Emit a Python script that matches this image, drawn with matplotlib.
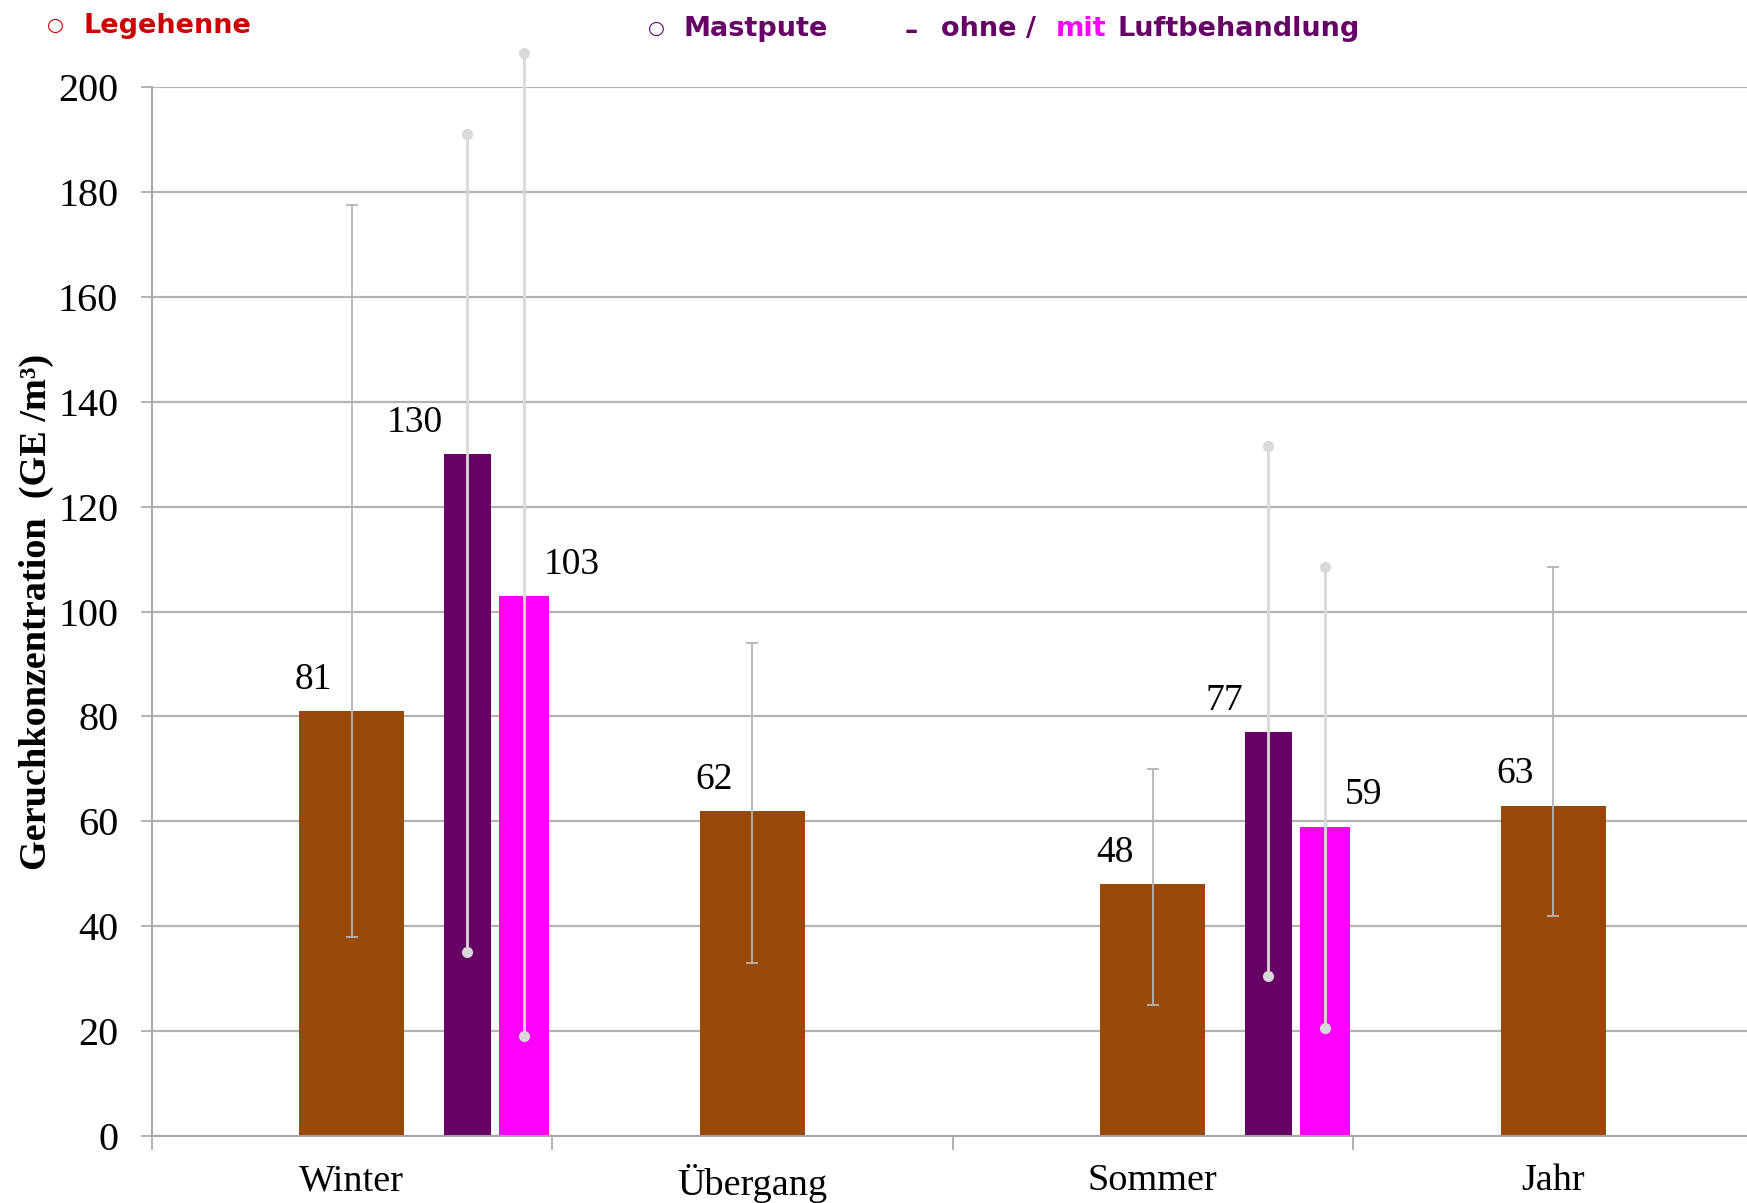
import matplotlib.pyplot as plt
import numpy as np

categories = ["Winter", "Übergang", "Sommer", "Jahr"]

# Legehenne: mean with min / max per period
lh_mean = [81, 62, 48, 63]
lh_low = [38, 33, 25, 42]
lh_high = [177.5, 94, 70, 108.5]

# Mastpute, only measured in winter and summer
mp_periods = ["Winter", "Sommer"]
mp_ohne = [130, 77]
mp_ohne_low = [35, 30.5]
mp_ohne_high = [191, 131.5]
mp_mit = [103, 59]
mp_mit_low = [19, 20.5]
mp_mit_high = [206.5, 108.5]

yticks = list(range(0, 201, 20))

BROWN = "#984807"
PURPLE = "#660066"
MAGENTA = "#ff00ff"
RED = "#cc0000"
GRID = "#b3b3b3"
WHISKER = "#d9d9d9"

W, H = 1747, 1203
fig = plt.figure(figsize=(W / 100, H / 100), dpi=100)
ax = fig.add_axes([151.5 / W, 1 - 1136 / H, 1602 / W, 1049 / H])

serif = "Liberation Serif"
centers = np.arange(len(categories)) + 0.5

# Legehenne bars with capped min/max whiskers
ax.bar(centers, lh_mean, width=0.262, color=BROWN, zorder=2)
lh_mean_a = np.array(lh_mean)
ax.errorbar(centers, lh_mean,
            yerr=[lh_mean_a - np.array(lh_low), np.array(lh_high) - lh_mean_a],
            fmt="none", ecolor="#b5b5b5", elinewidth=1.3, capsize=4.5, capthick=1.3,
            zorder=3)
for c, v in zip(centers, lh_mean):
    ax.text(c - 0.095, v + 6, f"{v}", ha="center", va="center",
            fontsize=27, family=serif)

# Mastpute bars: ohne / mit Luftbehandlung
mp_x = np.array([categories.index(p) + 0.5 for p in mp_periods])
x_ohne = mp_x + 0.289
x_mit = mp_x + 0.43
ax.bar(x_ohne, mp_ohne, width=0.117, color=PURPLE, zorder=2)
ax.bar(x_mit, mp_mit, width=0.125, color=MAGENTA, zorder=2)

for xs, lo, hi in [(x_ohne, mp_ohne_low, mp_ohne_high), (x_mit, mp_mit_low, mp_mit_high)]:
    ax.vlines(xs, lo, hi, color=WHISKER, lw=2, zorder=3, clip_on=False)
    ax.plot(xs, lo, "o", color=WHISKER, ms=7, zorder=4, clip_on=False)
    ax.plot(xs, hi, "o", color=WHISKER, ms=7, zorder=4, clip_on=False)

for x, v in zip(x_ohne, mp_ohne):
    ax.text(x - 0.062, v + 6, f"{v}", ha="right", va="center",
            fontsize=27, family=serif)
for x, v in zip(x_mit, mp_mit):
    ax.text(x + 0.05, v + 6, f"{v}", ha="left", va="center",
            fontsize=27, family=serif)

# axes styling
ax.set_xlim(0, len(categories))
ax.set_ylim(0, 200)
ax.set_yticks(yticks)
ax.set_yticklabels([str(t) for t in yticks], fontsize=29, family=serif)
ax.set_xticks(np.arange(len(categories) + 1))
ax.set_xticklabels([])
ax.set_xticks(centers, minor=True)
ax.set_xticklabels(categories, minor=True, fontsize=27.5, family=serif)
ax.tick_params(axis="x", which="major", length=10, color="#a6a6a6", width=1.2)
ax.tick_params(axis="x", which="minor", length=0, pad=20)
ax.tick_params(axis="y", length=8, color="#a6a6a6", width=1.2, pad=16)
ax.yaxis.grid(True, color=GRID, lw=1.6)
ax.set_axisbelow(True)
for side in ["top", "right"]:
    ax.spines[side].set_visible(False)
for side in ["left", "bottom"]:
    ax.spines[side].set_color("#a6a6a6")
    ax.spines[side].set_linewidth(1.4)

ax.set_ylabel("Geruchkonzentration  (GE /m³)", fontsize=27.5, family=serif,
              fontweight="bold", labelpad=3)

# legend line at the top
def ftxt(px, py, s, color, size=19.5):
    fig.text(px / W, 1 - py / H, s, color=color, fontsize=size,
             fontweight="bold", ha="left", va="baseline")

ftxt(47, 31, "○", RED, 14)
ftxt(84, 33, "Legehenne", RED)
ftxt(648, 34, "○", PURPLE, 14)
ftxt(683, 36, "Mastpute", PURPLE)
ftxt(905, 39, "–", PURPLE, 19)
ftxt(941, 36, "ohne /", PURPLE)
ftxt(1056, 36, "mit", MAGENTA)
ftxt(1118, 36, "Luftbehandlung", PURPLE)

fig.savefig("out.png", dpi=100, facecolor="white")
